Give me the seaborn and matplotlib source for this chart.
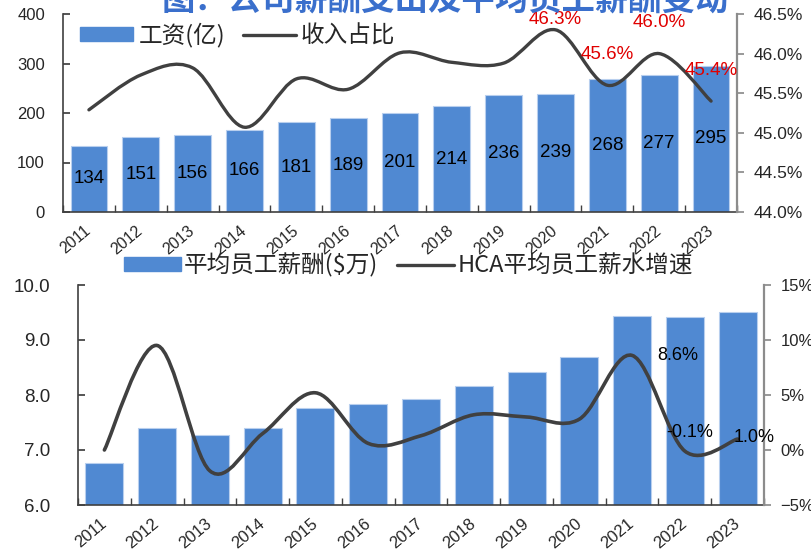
import matplotlib
matplotlib.use("Agg")
import matplotlib.pyplot as plt
import seaborn as sns
import numpy as np
import pandas as pd
from matplotlib.path import Path
from matplotlib.patches import PathPatch, Patch
from matplotlib.lines import Line2D
import matplotlib.ticker as mticker

# ---------------- data ----------------
years = ["2011", "2012", "2013", "2014", "2015", "2016", "2017",
         "2018", "2019", "2020", "2021", "2022", "2023"]
wage_total = [134, 151, 156, 166, 181, 189, 201, 214, 236, 239, 268, 277, 295]
revenue_share = [45.29, 45.73, 45.82, 45.07, 45.68, 45.55, 46.01,
                 45.89, 45.88, 46.30, 45.60, 46.00, 45.40]
share_label_idx = [9, 10, 11, 12]
share_label_txt = ["46.3%", "45.6%", "46.0%", "45.4%"]

avg_pay = [6.76, 7.40, 7.27, 7.40, 7.76, 7.84, 7.93, 8.16, 8.42, 8.69, 9.44, 9.41, 9.51]
pay_growth = [0.0, 9.5, -1.9, 1.5, 5.2, 0.6, 1.3, 3.2, 3.0, 2.8, 8.6, -0.1, 1.0]
growth_label_idx = [10, 11, 12]
growth_label_txt = ["8.6%", "-0.1%", "1.0%"]

title_text = "图：公司薪酬支出及平均员工薪酬变动"
legend_top = ["工资(亿)", "收入占比"]
legend_bottom = ["平均员工薪酬($万)", "HCA平均员工薪水增速"]

# ---------------- style ----------------
sns.set_theme(style="white")
plt.rcParams["font.family"] = ["Liberation Sans", "DejaVu Sans"]
CJK = ["Noto Sans CJK SC", "DejaVu Sans"]
BAR = "#5089D2"
LINE = "#404040"
DARK = "#404040"
GRAY = "#8C8C8C"

W, H = 811, 557
fig = plt.figure(figsize=(W / 100, H / 100), dpi=100)


def fig_rect(l, t, r, b):
    return [l / W, 1 - b / H, (r - l) / W, (b - t) / H]


def smooth_path(xs, ys):
    pts = np.column_stack([xs, ys]).astype(float)
    n = len(pts)
    verts = [pts[0]]
    codes = [Path.MOVETO]
    for i in range(n - 1):
        p0 = pts[i - 1] if i > 0 else pts[i]
        p1 = pts[i]
        p2 = pts[i + 1]
        p3 = pts[i + 2] if i + 2 < n else pts[i + 1]
        verts += [p1 + (p2 - p0) / 6, p2 - (p3 - p1) / 6, p2]
        codes += [Path.CURVE4] * 3
    return Path(verts, codes)


def style_axes(ax, axr, left_pad, right_pad, xsize, xpad):
    for s in ["top", "right"]:
        ax.spines[s].set_visible(False)
    for s in ["top", "left", "bottom"]:
        axr.spines[s].set_visible(False)
    ax.spines["left"].set_color(DARK)
    ax.spines["bottom"].set_color(DARK)
    ax.spines["left"].set_linewidth(1.2)
    ax.spines["bottom"].set_linewidth(1.2)
    axr.spines["right"].set_color(GRAY)
    axr.spines["right"].set_linewidth(1.6)
    ax.tick_params(axis="y", direction="in", length=5, color=DARK, pad=left_pad,
                   labelsize=12, left=True)
    axr.tick_params(axis="y", direction="out", length=5, color=GRAY, pad=right_pad,
                    labelsize=12, right=True)
    ax.set_xlim(-0.5, len(years) - 0.5)
    ax.set_xticks(np.arange(len(years)))
    ax.set_xticks(np.arange(len(years) + 1) - 0.5, minor=True)
    ax.tick_params(axis="x", which="major", length=0, pad=xpad)
    ax.tick_params(axis="x", which="minor", direction="in", length=5, color=DARK, bottom=True)
    for lab in ax.get_xticklabels():
        lab.set_rotation(40)
        lab.set_ha("right")
        lab.set_va("center")
        lab.set_rotation_mode("anchor")
        lab.set_fontsize(xsize)
    ax.set_xlabel("")
    ax.set_ylabel("")
    axr.set_ylabel("")


# ================= top chart =================
ax1 = fig.add_axes(fig_rect(63, 14, 737, 212))
df1 = pd.DataFrame({"year": years, "wage": wage_total})
sns.barplot(data=df1, x="year", y="wage", color=BAR, saturation=1, width=0.71,
            edgecolor="#B8CFEE", linewidth=0.8, ax=ax1)
ax1.bar_label(ax1.containers[0], labels=[str(v) for v in wage_total],
              label_type="center", fontsize=13.5, color="black")
ax1.set_ylim(0, 400)
ax1.set_yticks([0, 100, 200, 300, 400])
ax1r = ax1.twinx()
ax1r.set_ylim(44.0, 46.5)
ax1r.set_yticks(np.arange(44.0, 46.51, 0.5))
ax1r.yaxis.set_major_formatter(mticker.FuncFormatter(lambda v, p: f"{v:.1f}%"))
ax1r.add_patch(PathPatch(smooth_path(np.arange(len(years)), revenue_share),
                         facecolor="none", edgecolor=LINE, lw=2.4, capstyle="round"))
style_axes(ax1, ax1r, 13, 7, 11.5, 12)
for lab in ax1r.get_yticklabels():
    lab.set_fontsize(12.5)
offs1 = [10, 31, 31, 31]
for i, t, o in zip(share_label_idx, share_label_txt, offs1):
    ax1r.annotate(t, (i, revenue_share[i]), xytext=(0, o), textcoords="offset pixels",
                  ha="center", va="center", color="#E00000", fontsize=13.5)

h1 = [Patch(facecolor=BAR, edgecolor=BAR), Line2D([0], [0], color=LINE, lw=2.4)]
fig.legend(h1, legend_top, loc="center left", bbox_to_anchor=(80 / W, 1 - 35 / H),
           frameon=False, ncol=2, prop={"family": CJK, "size": 17},
           handlelength=2.25, handleheight=0.5, handletextpad=0.22, columnspacing=0.75,
           borderpad=0, borderaxespad=0)

# ================= bottom chart =================
ax2 = fig.add_axes(fig_rect(78, 285, 764, 505))
df2 = pd.DataFrame({"year": years, "pay": avg_pay})
sns.barplot(data=df2, x="year", y="pay", color=BAR, saturation=1, width=0.72,
            edgecolor="#B8CFEE", linewidth=0.8, ax=ax2)
ax2.set_ylim(6.0, 10.0)
ax2.set_yticks([6, 7, 8, 9, 10])
ax2.yaxis.set_major_formatter(mticker.FuncFormatter(lambda v, p: f"{v:.1f}"))
ax2r = ax2.twinx()
ax2r.set_ylim(-5, 15)
ax2r.set_yticks([-5, 0, 5, 10, 15])
ax2r.yaxis.set_major_formatter(mticker.FuncFormatter(lambda v, p: f"{v:.0f}%".replace("-", "\u2212")))
ax2r.add_patch(PathPatch(smooth_path(np.arange(len(years)), pay_growth),
                         facecolor="none", edgecolor=LINE, lw=2.6, capstyle="round"))
style_axes(ax2, ax2r, 20, 7, 12, 12)
for lab in ax2.get_yticklabels():
    lab.set_fontsize(13.5)
offs2 = [(46, 0), (5, 19), (17, 2)]
for i, t, o in zip(growth_label_idx, growth_label_txt, offs2):
    ax2r.annotate(t, (i, pay_growth[i]), xytext=o, textcoords="offset pixels",
                  ha="center", va="center", color="black", fontsize=13)

h2 = [Patch(facecolor=BAR, edgecolor=BAR), Line2D([0], [0], color=LINE, lw=2.4)]
fig.legend(h2, legend_bottom, loc="center left", bbox_to_anchor=(124 / W, 1 - 265 / H),
           frameon=False, ncol=2, prop={"family": CJK, "size": 17},
           handlelength=2.4, handleheight=0.5, handletextpad=0.15, columnspacing=0.8,
           borderpad=0, borderaxespad=0)

# cropped title at the very top
fig.text(445 / W, 1 - 1 / H, title_text, ha="center", va="center", fontsize=24,
         fontweight="bold", color="#3A6FCC", family=CJK)

fig.savefig("out.png", dpi=100)
